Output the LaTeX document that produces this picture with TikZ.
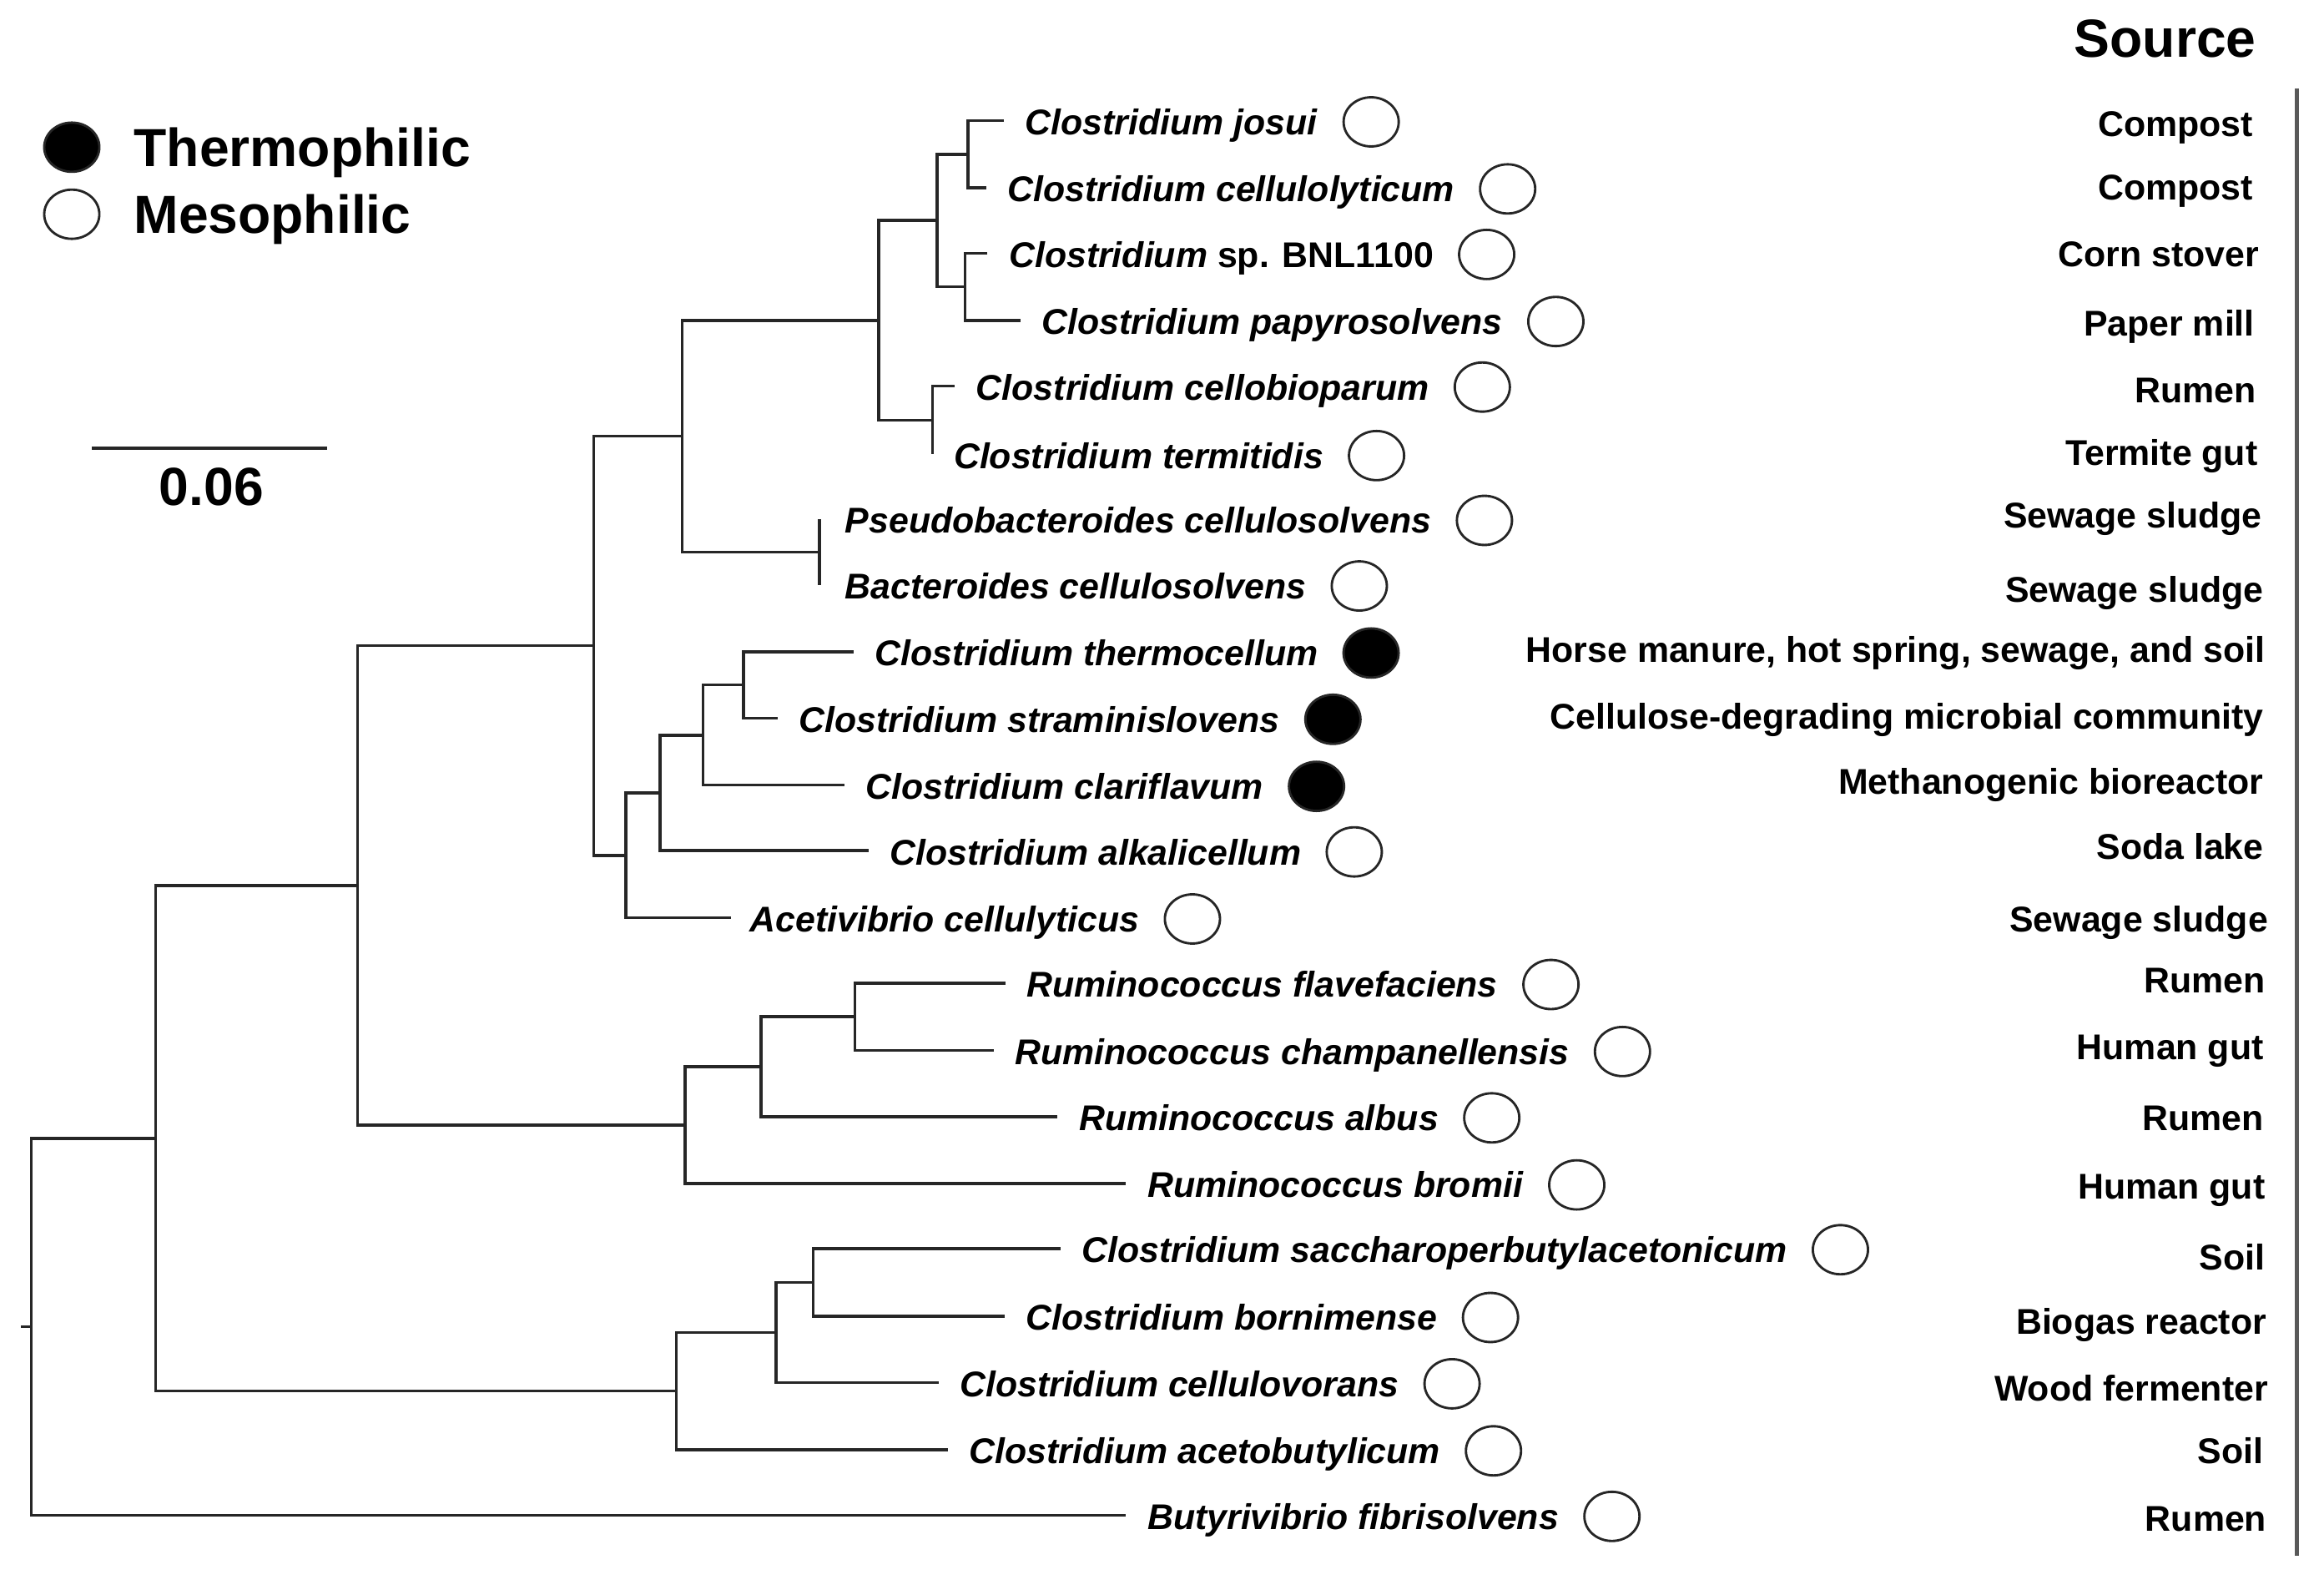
\documentclass[tikz,border=0pt]{standalone}
\usepackage{fontspec}
\setmainfont{Liberation Sans}
\usetikzlibrary{positioning,shapes.geometric}
\begin{document}
\begin{tikzpicture}%
	[x={(0.5pt,0pt)},
	y={(0pt,-0.5pt)},
	branch/.style={draw=black!85, line width=1pt},
	taxon/.style={anchor=west, inner sep=0pt, text height=8.6pt, text depth=0pt, yshift=-0.4pt, font=\fontsize{12}{14}\selectfont\bfseries},
	source/.style={anchor=east, inner sep=0pt, text height=8.6pt, text depth=0pt, font=\fontsize{12}{14}\selectfont\bfseries},
	meso/.style={ellipse, draw=black!85, line width=0.8pt, minimum width=18.5pt, minimum height=16.5pt, inner sep=0pt},
	thermo/.style={meso, fill=black},
	legend/.style={anchor=west, inner sep=0pt, text height=12.9pt, text depth=0pt, font=\fontsize{18}{21}\selectfont\bfseries}]
%
\useasboundingbox (0,0) rectangle (1560.2,1063.4);
%
%% Coordinate of the leaf tips:
%%
\coordinate (t1) at (674, 81);
\coordinate (t2) at (662, 126);
\coordinate (t3) at (663, 170);
\coordinate (t4) at (685, 215);
\coordinate (t5) at (641, 259);
\coordinate (t6) at (626, 305);
\coordinate (t7) at (550, 348.5);
\coordinate (t8) at (550, 392.5);
\coordinate (t9) at (573, 437.5);
\coordinate (t10) at (522, 482);
\coordinate (t11) at (567, 527);
\coordinate (t12) at (583, 571);
\coordinate (t13) at (491, 616);
\coordinate (t14) at (675, 660);
\coordinate (t15) at (667, 705);
\coordinate (t16) at (710, 749.5);
\coordinate (t17) at (756, 794.5);
\coordinate (t18) at (712, 838);
\coordinate (t19) at (674.5, 883.5);
\coordinate (t20) at (630, 928);
\coordinate (t21) at (636.5, 973);
\coordinate (t22) at (756, 1017);
%%
%% Coordinate of the inner nodes:
%%
\coordinate (n_a) at (650, 103.5);
\coordinate (n_b) at (648, 192.5);
\coordinate (n_ab) at (629, 148);
\coordinate (n_c) at (626, 282);
\coordinate (n_abc) at (590, 215);
\coordinate (n_d) at (550, 370.5);
\coordinate (n_abcd) at (458, 292.75);
\coordinate (n_e) at (499, 459.75);
\coordinate (n_e2) at (472, 493.4);
\coordinate (n_e3) at (443, 532.2);
\coordinate (n_e4) at (420, 574.1);
\coordinate (n_top) at (398.5, 433.4);
\coordinate (n_f) at (574, 682.5);
\coordinate (n_f2) at (511, 716);
\coordinate (n_f3) at (460, 755.25);
\coordinate (n_g) at (240, 594.3);
\coordinate (n_h) at (546, 860.75);
\coordinate (n_h2) at (521, 894.4);
\coordinate (n_h3) at (454, 933.7);
\coordinate (n_i) at (104.5, 764);
\coordinate (n_root) at (21, 890.5);
\coordinate (stem) at (14, 890.5);
%%
%%
%% Drawing the branches
%%
\draw[branch] (t1) -| (n_a) |- (t2);
\draw[branch] (t3) -| (n_b) |- (t4);
\draw[branch] (n_a) -| (n_ab) |- (n_b);
\draw[branch] (t5) -| (n_c) |- (t6);
\draw[branch] (n_ab) -| (n_abc) |- (n_c);
\draw[branch] (t7) -| (n_d) |- (t8);
\draw[branch] (n_abc) -| (n_abcd) |- (n_d);
\draw[branch] (t9) -| (n_e) |- (t10);
\draw[branch] (n_e) -| (n_e2) |- (t11);
\draw[branch] (n_e2) -| (n_e3) |- (t12);
\draw[branch] (n_e3) -| (n_e4) |- (t13);
\draw[branch] (n_abcd) -| (n_top) |- (n_e4);
\draw[branch] (t14) -| (n_f) |- (t15);
\draw[branch] (n_f) -| (n_f2) |- (t16);
\draw[branch] (n_f2) -| (n_f3) |- (t17);
\draw[branch] (n_top) -| (n_g) |- (n_f3);
\draw[branch] (t18) -| (n_h) |- (t19);
\draw[branch] (n_h) -| (n_h2) |- (t20);
\draw[branch] (n_h2) -| (n_h3) |- (t21);
\draw[branch] (n_g) -| (n_i) |- (n_h3);
\draw[branch] (n_i) -| (n_root) |- (t22);
\draw[branch] (stem) -- (n_root);
%%
%%
%% Drawing the taxa and their markers
%%
\node[taxon, right=7pt of t1] (lab1) {\textit{Clostridium josui}};
\node[meso, right=8pt of lab1] (mark1) {};
\node[taxon, right=7pt of t2] (lab2) {\textit{Clostridium cellulolyticum}};
\node[meso, right=8pt of lab2] (mark2) {};
\node[taxon, right=7pt of t3] (lab3) {\textit{Clostridium} sp. BNL1100};
\node[meso, right=8pt of lab3] (mark3) {};
\node[taxon, right=7pt of t4] (lab4) {\textit{Clostridium papyrosolvens}};
\node[meso, right=8pt of lab4] (mark4) {};
\node[taxon, right=7pt of t5] (lab5) {\textit{Clostridium cellobioparum}};
\node[meso, right=8pt of lab5] (mark5) {};
\node[taxon, right=7pt of t6] (lab6) {\textit{Clostridium termitidis}};
\node[meso, right=8pt of lab6] (mark6) {};
\node[taxon, right=8.5pt of t7] (lab7) {\textit{Pseudobacteroides cellulosolvens}};
\node[meso, right=8pt of lab7] (mark7) {};
\node[taxon, right=8.5pt of t8] (lab8) {\textit{Bacteroides cellulosolvens}};
\node[meso, right=8pt of lab8] (mark8) {};
\node[taxon, right=7pt of t9] (lab9) {\textit{Clostridium thermocellum}};
\node[thermo, right=8pt of lab9] (mark9) {};
\node[taxon, right=7pt of t10] (lab10) {\textit{Clostridium straminislovens}};
\node[thermo, right=8pt of lab10] (mark10) {};
\node[taxon, right=7pt of t11] (lab11) {\textit{Clostridium clariflavum}};
\node[thermo, right=8pt of lab11] (mark11) {};
\node[taxon, right=7pt of t12] (lab12) {\textit{Clostridium alkalicellum}};
\node[meso, right=8pt of lab12] (mark12) {};
\node[taxon, right=6pt of t13] (lab13) {\textit{Acetivibrio cellulyticus}};
\node[meso, right=8pt of lab13] (mark13) {};
\node[taxon, right=7pt of t14] (lab14) {\textit{Ruminococcus flavefaciens}};
\node[meso, right=8pt of lab14] (mark14) {};
\node[taxon, right=7pt of t15] (lab15) {\textit{Ruminococcus champanellensis}};
\node[meso, right=8pt of lab15] (mark15) {};
\node[taxon, right=7pt of t16] (lab16) {\textit{Ruminococcus albus}};
\node[meso, right=8pt of lab16] (mark16) {};
\node[taxon, right=7pt of t17] (lab17) {\textit{Ruminococcus bromii}};
\node[meso, right=8pt of lab17] (mark17) {};
\node[taxon, right=7pt of t18] (lab18) {\textit{Clostridium saccharoperbutylacetonicum}};
\node[meso, right=8pt of lab18] (mark18) {};
\node[taxon, right=7pt of t19] (lab19) {\textit{Clostridium bornimense}};
\node[meso, right=8pt of lab19] (mark19) {};
\node[taxon, right=7pt of t20] (lab20) {\textit{Clostridium cellulovorans}};
\node[meso, right=8pt of lab20] (mark20) {};
\node[taxon, right=7pt of t21] (lab21) {\textit{Clostridium acetobutylicum}};
\node[meso, right=8pt of lab21] (mark21) {};
\node[taxon, right=7pt of t22] (lab22) {\textit{Butyrivibrio fibrisolvens}};
\node[meso, right=8pt of lab22] (mark22) {};
%%
%%
%% Drawing the sources
%%
\node[source, font=\fontsize{18}{21}\selectfont\bfseries, text height=12.9pt] (src_title) at (1515, 25.5) {Source};
\node[source] (src1) at (1513, 83.2) {Compost};
\node[source] (src2) at (1513, 125.6) {Compost};
\node[source] (src3) at (1517, 170.5) {Corn stover};
\node[source] (src4) at (1514, 217) {Paper mill};
\node[source] (src5) at (1515, 261.5) {Rumen};
\node[source] (src6) at (1516, 304) {Termite gut};
\node[source] (src7) at (1519, 346) {Sewage sludge};
\node[source] (src8) at (1520, 395.5) {Sewage sludge};
\node[source] (src9) at (1521, 436) {Horse manure, hot spring, sewage, and soil};
\node[source] (src10) at (1520, 480.5) {Cellulose-degrading microbial community};
\node[source] (src11) at (1520, 524.5) {Methanogenic bioreactor};
\node[source] (src12) at (1520, 568) {Soda lake};
\node[source] (src13) at (1523, 617) {Sewage sludge};
\node[source] (src14) at (1521, 658) {Rumen};
\node[source] (src15) at (1520, 702.6) {Human gut};
\node[source] (src16) at (1520, 750) {Rumen};
\node[source] (src17) at (1521, 796.4) {Human gut};
\node[source] (src18) at (1521, 844) {Soil};
\node[source] (src19) at (1522, 887) {Biogas reactor};
\node[source] (src20) at (1523, 932) {Wood fermenter};
\node[source] (src21) at (1520, 974) {Soil};
\node[source] (src22) at (1522, 1019) {Rumen};
\coordinate (rule_top) at (1542, 59.4);
\coordinate (rule_bot) at (1542, 1044);
\draw[line width=1.4pt, black!65] (rule_top) -- (rule_bot);
%%
%%
%% Drawing the legend and the scale bar
%%
\node[thermo] (key_thermo) at (48.2, 98.8) {};
\node[legend, right=11pt of key_thermo] (key_thermo_text) {Thermophilic};
\node[meso] (key_meso) at (48.2, 143.8) {};
\node[legend, right=11pt of key_meso] (key_meso_text) {Mesophilic};
\coordinate (bar_l) at (61.5, 301);
\coordinate (bar_r) at (219.7, 301);
\draw[branch] (bar_l) -- (bar_r);
\node[legend, anchor=center] (bar_text) at (142, 326.4) {0.06};
%%
%%
\end{tikzpicture}
\end{document}
